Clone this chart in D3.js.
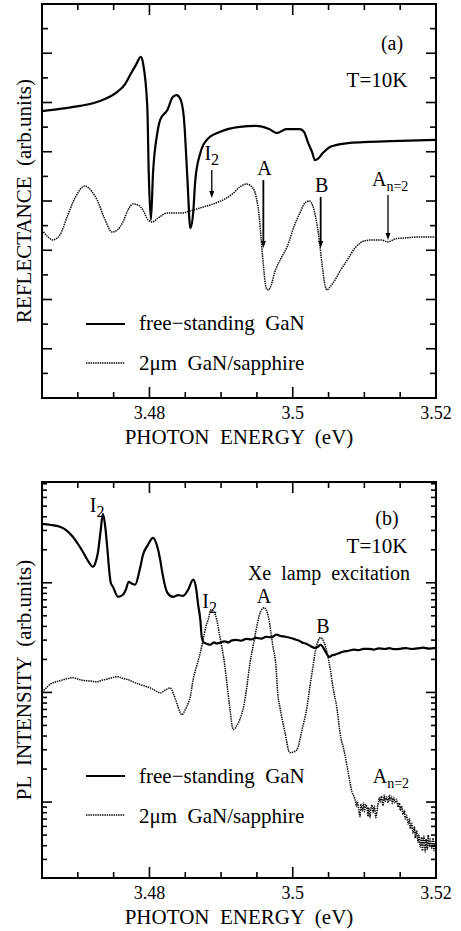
<!DOCTYPE html>
<html><head><meta charset="utf-8">
<script src="https://cdn.jsdelivr.net/npm/d3@7"></script>
<style>
html,body{margin:0;padding:0;background:#fff;}
svg text{fill:#000;white-space:pre;}
</style></head>
<body>
<svg id="chart" width="461" height="931" font-family="'Liberation Serif', 'DejaVu Serif', serif"></svg>
<script>
// ---------- DATA ----------
const energyDomain = [3.465, 3.52];
const xTickLabels = [3.48, 3.5, 3.52];
const xTickLabelText = ["3.48", "3.5", "3.52"];

// (a) Reflectance, arb. units
const reflFreeStanding = [
 [3.4650,11.65],[3.4675,11.74],[3.4703,11.86],[3.4731,12.06],[3.4755,12.43],[3.4766,12.75],[3.4773,13.12],
 [3.4781,13.52],[3.4788,13.85],[3.4791,13.60],[3.4797,11.82],[3.4799,9.14],[3.4802,7.23],[3.4805,9.14],
 [3.4811,10.76],[3.4815,11.29],[3.4825,11.70],[3.4833,12.24],[3.4838,12.30],[3.4843,12.15],[3.4848,11.40],
 [3.4853,8.90],[3.4857,6.90],[3.4861,7.51],[3.4864,8.85],[3.4871,9.95],[3.4880,10.48],[3.4898,10.80],
 [3.4926,11.01],[3.4949,11.05],[3.4967,10.92],[3.4978,10.76],[3.4991,10.92],[3.5010,10.92],[3.5016,10.80],
 [3.5021,10.40],[3.5027,9.99],[3.5031,9.66],[3.5035,9.71],[3.5042,9.95],[3.5052,10.19],[3.5060,10.27],
 [3.5080,10.36],[3.5106,10.40],[3.5150,10.44],[3.5200,10.48]
];
const reflSapphire = [
 [3.4650,6.82],[3.4657,6.58],[3.4665,6.42],[3.4675,6.62],[3.4685,7.35],[3.4696,8.12],[3.4710,8.61],
 [3.4720,8.37],[3.4727,8.04],[3.4737,7.31],[3.4748,6.74],[3.4755,6.82],[3.4763,7.15],[3.4770,7.63],
 [3.4777,7.88],[3.4784,7.84],[3.4791,7.63],[3.4798,7.23],[3.4804,7.15],[3.4812,7.31],[3.4825,7.51],
 [3.4843,7.51],[3.4861,7.63],[3.4871,7.72],[3.4889,7.88],[3.4905,8.08],[3.4917,8.32],[3.4926,8.57],
 [3.4936,8.69],[3.4943,8.57],[3.4949,8.16],[3.4953,7.43],[3.4956,6.42],[3.4959,5.40],[3.4963,4.47],
 [3.4966,4.39],[3.4970,4.59],[3.4975,5.12],[3.4984,5.69],[3.4992,6.13],[3.5002,6.98],[3.5010,7.51],
 [3.5017,7.92],[3.5023,8.00],[3.5028,7.80],[3.5032,7.35],[3.5037,6.42],[3.5041,5.40],[3.5045,4.59],
 [3.5048,4.39],[3.5052,4.51],[3.5059,4.79],[3.5067,5.20],[3.5076,5.60],[3.5087,6.09],[3.5100,6.38],
 [3.5112,6.42],[3.5123,6.42],[3.5133,6.34],[3.5143,6.46],[3.5157,6.50],[3.5178,6.54],[3.5200,6.54]
];
const reflDomain = [0, 16];
// arrows: [label, subscript, energy, top value, tip value]
const reflMarkers = [
 ["I", "2", 3.4887, 9.26, 8.12],
 ["A", "", 3.4959, 8.85, 6.09],
 ["B", "", 3.5039, 8.16, 6.09],
 ["A", "n=2", 3.5133, 8.24, 6.42]
];

// (b) PL intensity, arb. units (log)
const plFreeStanding = [
 [3.4650,3450],[3.4661,3380],[3.4675,3240],[3.4685,2980],[3.4693,2630],[3.4700,2270],[3.4707,1920],
 [3.4714,1590],[3.4721,1400],[3.4725,1550],[3.4728,1880],[3.4732,3040],[3.4735,4260],[3.4738,3380],
 [3.4741,2130],[3.4744,1260],[3.4746,1000],[3.4749,920],[3.4756,745],[3.4763,778],[3.4767,863],
 [3.4771,1020],[3.4776,979],[3.4780,960],[3.4787,1370],[3.4791,1800],[3.4798,2220],[3.4805,2570],
 [3.4811,2130],[3.4815,1620],[3.4818,1230],[3.4825,811],[3.4833,745],[3.4840,770],[3.4847,761],[3.4854,863],
 [3.4861,1070],[3.4865,900],[3.4868,630],[3.4871,460],[3.4873,322],[3.4876,284],[3.4880,278],[3.4885,272],
 [3.4890,286],[3.4894,279],[3.4898,284],[3.4905,292],[3.4910,286],[3.4915,298],[3.4921,302],[3.4928,296],
 [3.4935,308],[3.4942,304],[3.4949,315],[3.4956,309],[3.4963,322],[3.4970,318],[3.4977,336],[3.4984,326],
 [3.4990,322],[3.4996,315],[3.5003,305],[3.5009,296],[3.5014,284],[3.5019,278],[3.5024,267],
 [3.5031,255],[3.5035,261],[3.5039,272],[3.5045,240],[3.5051,211],[3.5055,218],[3.5059,221],[3.5065,228],
 [3.5070,235],[3.5078,240],[3.5085,246],[3.5092,243],[3.5099,250],[3.5106,250],[3.5113,246],[3.5120,252],
 [3.5128,249],[3.5135,253],[3.5142,248],[3.5150,250],[3.5158,254],[3.5166,249],[3.5174,252],[3.5182,256],
 [3.5190,251],[3.5200,255]
];
const plSapphire = [
 [3.4650,101],[3.4656,110],[3.4661,118],[3.4668,124],[3.4675,128],[3.4684,133],[3.4693,136],[3.4702,131],
 [3.4710,128],[3.4718,127],[3.4727,125],[3.4735,130],[3.4742,133],[3.4749,137],[3.4756,139],[3.4763,134],
 [3.4770,131],[3.4778,124],[3.4787,118],[3.4794,114],[3.4801,110],[3.4808,104],[3.4815,99],[3.4823,106],
 [3.4829,110],[3.4834,95.3],[3.4838,80.5],[3.4843,65.3],[3.4845,62.6],[3.4850,69.5],[3.4852,74.1],
 [3.4857,91.4],[3.4861,131],[3.4866,175],[3.4871,230],[3.4875,302],[3.4879,405],[3.4882,460],
 [3.4886,567],[3.4890,544],[3.4894,460],[3.4898,329],[3.4901,261],[3.4905,179],[3.4908,123],
 [3.4912,74.1],[3.4917,45.7],[3.4921,48.7],[3.4926,56.4],[3.4932,77.3],[3.4936,113],[3.4940,179],
 [3.4945,272],[3.4949,373],[3.4954,521],[3.4960,592],[3.4966,490],[3.4970,336],[3.4972,272],
 [3.4977,161],[3.4979,99],[3.4982,74.1],[3.4989,43.8],[3.4996,28.2],[3.5002,28.8],[3.5006,30.1],
 [3.5013,45.7],[3.5020,74.1],[3.5024,113],[3.5028,168],[3.5032,245],[3.5039,315],[3.5044,284],
 [3.5048,230],[3.5052,168],[3.5056,113],[3.5062,69.5],[3.5066,42.9],[3.5072,28.8],[3.5076,21.0],
 [3.5080,15.0],[3.5083,12.2],[3.5085,11.4],[3.5087,10.5],[3.5089,9.1],[3.5090,10.2],[3.5092,8.6],[3.5094,7.36],
 [3.5095,9.6],[3.5097,8.3],[3.5099,9.8],[3.5100,8.17],[3.5102,9.5],[3.5104,8.53],[3.5105,7.4],[3.5106,8.9],
 [3.5108,7.2],[3.5109,8.71],[3.5111,9.4],[3.5112,8.00],[3.5114,9.2],[3.5116,7.21],[3.5118,8.6],[3.5119,9.47],
 [3.5121,11.0],[3.5122,10.0],[3.5124,11.3],[3.5126,9.27],[3.5128,11.6],[3.5129,10.2],[3.5131,11.1],[3.5133,9.88],
 [3.5135,11.6],[3.5136,10.4],[3.5138,11.3],[3.5139,9.67],[3.5141,11.0],[3.5143,9.8],[3.5145,10.6],[3.5147,9.0],
 [3.5149,9.8],[3.5150,8.4],[3.5152,9.2],[3.5154,7.7],[3.5156,8.4],[3.5157,7.0],[3.5159,7.6],[3.5161,6.3],
 [3.5163,7.0],[3.5164,5.7],[3.5166,6.4],[3.5168,5.2],[3.5170,6.0],[3.5171,4.7],[3.5173,5.5],[3.5175,4.3],
 [3.5176,5.0],[3.5178,3.9],[3.5180,4.8],[3.5181,3.6],[3.5183,4.9],[3.5185,3.5],[3.5186,4.6],[3.5188,3.7],
 [3.5189,5.0],[3.5191,3.9],[3.5192,4.6],[3.5194,3.8],[3.5196,4.7],[3.5197,3.6],[3.5199,4.4],[3.5200,4.0]
];
const plDomain = [2.03, 8300];
// labels: [main, subscript, energy, value]
const plMarkers = [
 ["I", "2", 3.4727, 4440],
 ["I", "2", 3.4884, 592],
 ["A", "", 3.4960, 657],
 ["B", "", 3.5042, 350],
 ["A", "n=2", 3.5137, 15.0]
];

const legendLabels = ["free\u2212standing  GaN", "2\u03bcm  GaN/sapphire"];

// ---------- DRAW ----------
const svg = d3.select("#chart");
const L = 42, R = 436;
const x = d3.scaleLinear().domain(energyDomain).range([L, R]);

function frameAndXAxis(g, top, bottom) {
  const minorX = d3.range(3.465, 3.5201, 0.005).map(v => +v.toFixed(3));
  [top, bottom].forEach((yy, i) => {
    const dir = i === 0 ? 1 : -1;
    g.selectAll(null).data(minorX).enter().append("line")
      .attr("x1", d => x(d)).attr("x2", d => x(d))
      .attr("y1", yy).attr("y2", d => yy + dir * (xTickLabels.includes(d) ? 11 : 6))
      .attr("stroke", "#000").attr("stroke-width", 1.6);
  });
  g.append("rect").attr("x", L).attr("y", top).attr("width", R - L).attr("height", bottom - top)
    .attr("fill", "none").attr("stroke", "#000").attr("stroke-width", 2);
  g.selectAll(null).data(xTickLabels).enter().append("text")
    .attr("x", d => x(d)).attr("y", bottom + 21).attr("text-anchor", "middle")
    .attr("font-size", 18).text((d, i) => xTickLabelText[i]);
  g.append("text").attr("x", 239).attr("y", bottom + 46).attr("text-anchor", "middle")
    .attr("font-size", 21).text("PHOTON  ENERGY  (eV)");
}

function yTicks(g, y, ticks) {
  ticks.forEach(t => {
    [[L, 1], [R, -1]].forEach(([xx, dir]) => {
      g.append("line").attr("x1", xx).attr("x2", xx + dir * t.len)
        .attr("y1", y(t.v)).attr("y2", y(t.v)).attr("stroke", "#000").attr("stroke-width", 1.6);
    });
  });
}

function legend(g, y1, y2, ty1, ty2) {
  g.append("line").attr("x1", 86).attr("x2", 125).attr("y1", y1).attr("y2", y1)
    .attr("stroke", "#000").attr("stroke-width", 2.2);
  g.append("line").attr("x1", 86).attr("x2", 125).attr("y1", y2).attr("y2", y2)
    .attr("stroke", "#000").attr("stroke-width", 1.4).attr("stroke-dasharray", "1.4 0.9");
  g.append("text").attr("x", 139).attr("y", ty1).attr("font-size", 21).text(legendLabels[0]);
  g.append("text").attr("x", 139).attr("y", ty2).attr("font-size", 21).text(legendLabels[1]);
}

function subLabel(g, px, py, main, sub, anchor) {
  const t = g.append("text").attr("x", px).attr("y", py).attr("font-size", 20)
    .attr("text-anchor", anchor || "middle");
  t.append("tspan").text(main);
  if (sub) t.append("tspan").attr("font-size", sub.length > 1 ? 14 : 16).attr("dy", 5).text(sub);
}

// ---- Panel (a) ----
const topA = 4, botA = 398;
const ya = d3.scaleLinear().domain(reflDomain).range([botA, topA]);
const ga = svg.append("g");
yTicks(ga, ya, d3.range(1, 16).map(v => ({ v, len: v % 2 === 0 ? 10 : 6 })));
frameAndXAxis(ga, topA, botA);

const lineA = d3.line().x(d => x(d[0])).y(d => ya(d[1])).curve(d3.curveMonotoneX);
ga.append("path").datum(reflSapphire).attr("d", lineA).attr("fill", "none")
  .attr("stroke", "#000").attr("stroke-width", 1.5).attr("stroke-dasharray", "1.4 0.9");
ga.append("path").datum(reflFreeStanding).attr("d", lineA).attr("fill", "none")
  .attr("stroke", "#000").attr("stroke-width", 2.2).attr("stroke-linejoin", "round");

reflMarkers.forEach(m => {
  const px = x(m[2]), y0 = ya(m[3]), y1 = ya(m[4]);
  ga.append("line").attr("x1", px).attr("x2", px).attr("y1", y0).attr("y2", y1 - 4)
    .attr("stroke", "#000").attr("stroke-width", m[0] === "I" || m[1] ? 1.3 : 1.8);
  ga.append("path").attr("d", `M${px - 2.5},${y1 - 7}L${px},${y1}L${px + 2.5},${y1 - 7}Z`).attr("fill", "#000");
  const ly = y0 - 5;
  if (m[1] === "n=2") subLabel(ga, px - 16, ly - 4, m[0], m[1], "start");
  else if (m[1]) subLabel(ga, px, ly - 5, m[0], m[1]);
  else subLabel(ga, px + 1, ly, m[0], m[1]);
});

ga.append("text").attr("x", 392).attr("y", 50).attr("text-anchor", "middle").attr("font-size", 20).text("(a)");
ga.append("text").attr("x", 377).attr("y", 87).attr("text-anchor", "middle").attr("font-size", 21).text("T=10K");
legend(ga, 324, 363, 330, 370);
ga.append("text").attr("transform", `translate(31,${(topA + botA) / 2}) rotate(-90)`)
  .attr("text-anchor", "middle").attr("font-size", 21).text("REFLECTANCE  (arb.units)");

// ---- Panel (b) ----
const topB = 482, botB = 878;
const yb = d3.scaleLog().domain(plDomain).range([botB, topB]);
const gb = svg.append("g");
const logTicks = [];
[1, 10, 100, 1000].forEach(dec => {
  for (let k = 1; k <= 9; k++) {
    const v = dec * k;
    if (v >= plDomain[0] && v <= plDomain[1]) logTicks.push({ v, len: k === 1 ? 10 : 5 });
  }
});
yTicks(gb, yb, logTicks);
frameAndXAxis(gb, topB, botB);

const lineB = d3.line().x(d => x(d[0])).y(d => yb(d[1])).curve(d3.curveMonotoneX);
gb.append("path").datum(plSapphire).attr("d", lineB).attr("fill", "none")
  .attr("stroke", "#000").attr("stroke-width", 1.5).attr("stroke-dasharray", "1.4 0.9");
gb.append("path").datum(plFreeStanding).attr("d", lineB).attr("fill", "none")
  .attr("stroke", "#000").attr("stroke-width", 2.2).attr("stroke-linejoin", "round");

plMarkers.forEach(m => {
  subLabel(gb, x(m[2]), yb(m[3]), m[0], m[1], "middle");
});
gb.append("text").attr("x", 387).attr("y", 525).attr("text-anchor", "middle").attr("font-size", 20).text("(b)");
gb.append("text").attr("x", 377).attr("y", 553).attr("text-anchor", "middle").attr("font-size", 21).text("T=10K");
gb.append("text").attr("x", 329).attr("y", 580).attr("text-anchor", "middle").attr("font-size", 20).text("Xe  lamp  excitation");
legend(gb, 776, 815, 783, 823);
gb.append("text").attr("transform", `translate(31,${(topB + botB) / 2}) rotate(-90)`)
  .attr("text-anchor", "middle").attr("font-size", 21).text("PL  INTENSITY  (arb.units)");
</script>
</body></html>
